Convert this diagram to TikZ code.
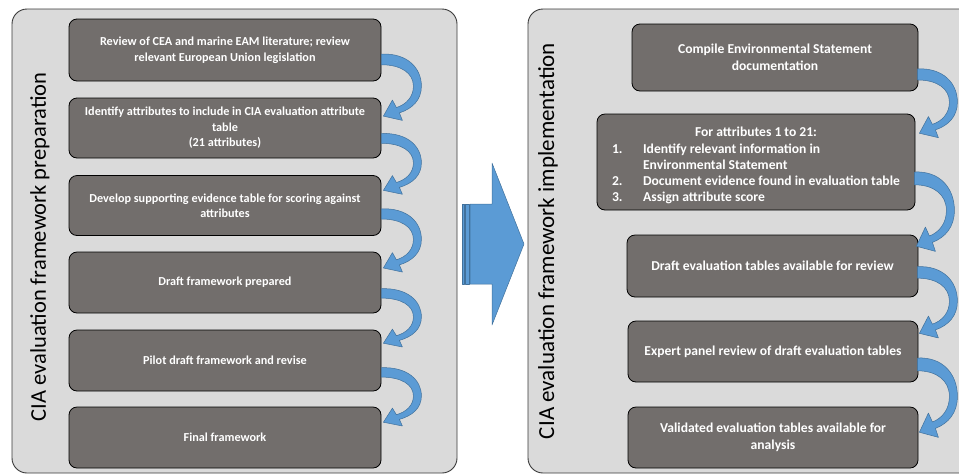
\documentclass[tikz,border=0pt]{standalone}
\usepackage{fontspec}
\setmainfont{Carlito}
\usetikzlibrary{calc}
\definecolor{panelfill}{HTML}{DADADA}
\definecolor{paneldraw}{HTML}{3A3A3A}
\definecolor{boxfill}{HTML}{726E6C}
\definecolor{arrowfill}{HTML}{5B9BD5}
\definecolor{arrowdraw}{HTML}{41719C}
\tikzset{
 panel/.style={draw=paneldraw, fill=panelfill, line width=0.9pt, rounded corners=15pt},
 stepbox/.style={draw=black, fill=boxfill, line width=0.8pt, rounded corners=8pt, text=white,
   font=\bfseries\fontsize{12.2}{15.5}\selectfont, align=center, inner sep=0pt},
 rightbox/.style={stepbox, font=\bfseries\fontsize{13.6}{17}\selectfont},
 sidelabel/.style={rotate=90, text=black, inner sep=0pt},
 bluearrow/.style={fill=arrowfill, draw=arrowdraw, line width=0.5pt, line join=round},
}
\newcommand\carrow[2]{%
 \begin{scope}[shift={#1}, yscale=#2]
 \path[bluearrow] (0,-5) .. controls (26,-6) and (40,8) .. (40,25)
   .. controls (40,38) and (31,46) .. (18,50) -- (21,57) -- (2,53) -- (11,38) -- (15,45)
   .. controls (25,42) and (32,35) .. (32,25) .. controls (32,13) and (20,5) .. (0,5) -- cycle;
 \end{scope}}
\begin{document}
\begin{tikzpicture}[x=1pt,y=-1pt]
\useasboundingbox (0,0) rectangle (959,475);
\begin{scope}
\clip (0,0) rectangle (959,475);
\draw[panel] (12,9) rectangle (457,473);
\draw[panel] (528,9) rectangle (990,473);
\end{scope}
\node[sidelabel, font=\fontsize{22.5}{26}\selectfont] (lab1) at (40,247) {CIA evaluation framework preparation};
\node[sidelabel, font=\fontsize{23}{27}\selectfont] (lab2) at (548,241) {CIA evaluation framework implementation};
% left column
\node[stepbox, minimum width=312pt, minimum height=62pt] (L1) at (225,50) {Review of CEA and marine EAM literature; review\\relevant European Union legislation};
\node[stepbox, minimum width=312pt, minimum height=60pt] (L2) at (225,128) {Identify attributes to include in CIA evaluation attribute\\table\\(21 attributes)};
\node[stepbox, minimum width=312pt, minimum height=60pt] (L3) at (225,205.5) {Develop supporting evidence table for scoring against\\attributes};
\node[stepbox, minimum width=312pt, minimum height=61pt] (L4) at (225,282.5) {Draft framework prepared};
\node[stepbox, minimum width=312pt, minimum height=61pt] (L5) at (225,360.5) {Pilot draft framework and revise};
\node[stepbox, minimum width=312pt, minimum height=61pt] (L6) at (225,437.5) {Final framework};
% right column
\node[rightbox, minimum width=286pt, minimum height=67pt] (R1) at (775,57.5) {Compile Environmental Statement\\documentation};
\node[rightbox, font=\bfseries\fontsize{13.6}{16.3}\selectfont, minimum width=318pt, minimum height=96pt] (R2) at (756,162) {\rule{0pt}{19.5pt}For attributes 1 to 21:\\
\begin{tabular}[t]{@{}p{31pt}@{}l@{}}
1. & Identify relevant information in\\
   & Environmental Statement\\
2. & Document evidence found in evaluation table\\
3. & Assign attribute score
\end{tabular}};
\node[rightbox, minimum width=291pt, minimum height=62pt] (R3) at (772.5,266) {Draft evaluation tables available for review};
\node[rightbox, minimum width=290pt, minimum height=61pt] (R4) at (773,351.5) {Expert panel review of draft evaluation tables};
\node[rightbox, minimum width=290pt, minimum height=61pt] (R5) at (773,437.5) {Validated evaluation tables available for\\analysis};
% curved arrows left
\carrow{($(L1.south east)+(0,-22)$)}{1.07}
\carrow{($(L2.south east)+(0,-20)$)}{0.98}
\carrow{($(L3.south east)+(0,-22)$)}{1.02}
\carrow{($(L4.south east)+(0,-20)$)}{0.94}
\carrow{($(L5.south east)+(0,-19)$)}{0.94}
% curved arrows right
\carrow{($(R1.south east)+(-1,-17)$)}{1.11}
\carrow{($(R2.south east)+(-1,-32)$)}{1.28}
\carrow{($(R3.south east)+(-1,-25)$)}{1.15}
\carrow{($(R4.south east)+(-1,-18)$)}{1.28}
% big middle arrow
\path[bluearrow] (470,204) -- (492,204) -- (492,163) -- (524,244) -- (492,325) -- (492,284) -- (470,284) -- cycle;
\path[bluearrow] (462,204) rectangle (464.5,284);
\path[bluearrow] (465.5,204) rectangle (469,284);
\end{tikzpicture}
\end{document}
